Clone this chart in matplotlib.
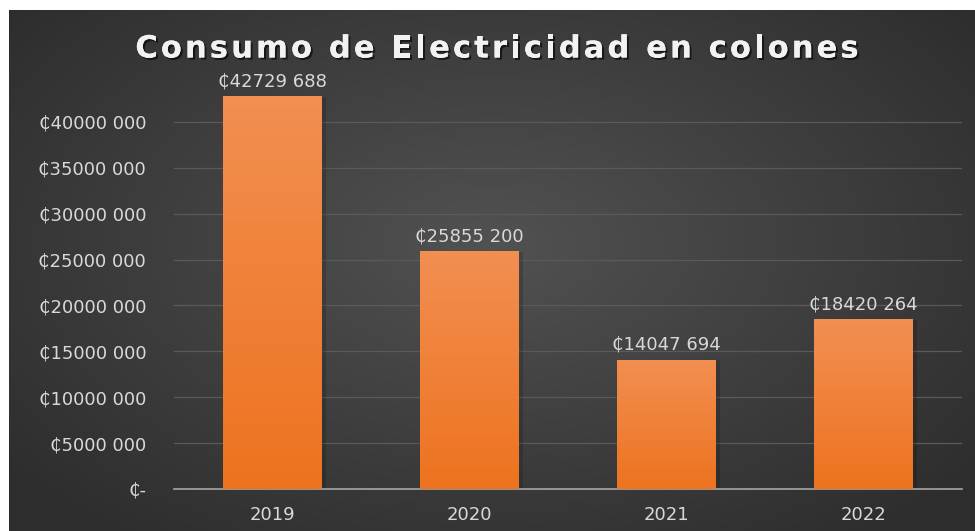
import numpy as np
import matplotlib.pyplot as plt
import matplotlib.patheffects as pe
from matplotlib.font_manager import FontProperties
from matplotlib.ticker import FuncFormatter

years = ["2019", "2020", "2021", "2022"]
consumo = [42729688, 25855200, 14047694, 18420264]
y_ticks = [0, 5000000, 10000000, 15000000, 20000000, 25000000, 30000000, 35000000, 40000000]
titulo = "Consumo de Electricidad en colones"

TXT = "#d9d9d9"
W, H = 975, 531


def colones(v, _pos=None):
    if v == 0:
        return "\u20b5-"
    s = f"{int(round(v)):d}"
    return "\u20b5" + s[:-3] + " " + s[-3:]


def spaced_title(fig, text, xc, yc, tracking, **kw):
    # draw the title letter by letter so it gets some extra tracking
    prop = FontProperties(family="DejaVu Sans", weight="bold", size=kw.pop("fontsize"))
    rend = fig.canvas.get_renderer()
    widths = [rend.get_text_width_height_descent(c, prop, ismath=False)[0] for c in text]
    total = sum(widths) + tracking * (len(text) - 1)
    x = xc - total / 2
    for c, w in zip(text, widths):
        fig.text(x / W, yc, c, ha="left", va="center", fontproperties=prop, **kw)
        x += w + tracking


fig = plt.figure(figsize=(W / 100, H / 100), dpi=100)
fig.patch.set_facecolor("white")

# dark panel with a soft radial glow
bg = fig.add_axes([9 / W, 0, 1 - 9 / W, 1 - 10 / H], zorder=0)
gx, gy = np.meshgrid(np.linspace(-1, 1, 400), np.linspace(-1, 1, 220))
r = np.sqrt((gx / 1.1) ** 2 + ((gy + 0.1) / 1.2) ** 2)
shade = np.clip(0.32 - 0.12 * r, 0.18, 0.32)
bg.imshow(np.dstack([shade] * 3), aspect="auto", extent=[0, 1, 0, 1],
          interpolation="bicubic")
bg.set_axis_off()

ax = fig.add_axes([174 / W, 1 - 489 / H, 788 / W, (489 - 76) / H], zorder=1)
ax.patch.set_alpha(0)
x = np.arange(len(years))
ax.set_xlim(-0.5, len(years) - 0.5)
ax.set_ylim(0, 45000000)

bars = ax.bar(x, consumo, width=0.5, color="none", zorder=3)
grad = np.linspace(0, 1, 256).reshape(-1, 1)
top = np.array([0.95, 0.56, 0.32])
bottom = np.array([0.93, 0.45, 0.12])
img = bottom + (top - bottom) * grad[..., None]
for b in bars:
    x0, w, h = b.get_x(), b.get_width(), b.get_height()
    # faint drop shadow around each bar
    ax.bar(x0 + w / 2 + 0.01, h, width=w + 0.025, color="black", alpha=0.15,
           zorder=2, linewidth=0)
    ax.imshow(img, extent=[x0, x0 + w, 0, h], origin="lower", aspect="auto",
              zorder=3)
    ax.text(x0 + w / 2, h + 700000, colones(h), ha="center", va="bottom",
            color=TXT, fontsize=13)

ax.set_yticks(y_ticks)
ax.yaxis.set_major_formatter(FuncFormatter(colones))
ax.set_xticks(x, years)
ax.tick_params(axis="both", length=0, colors=TXT, labelsize=13)
ax.tick_params(axis="y", pad=20)
ax.tick_params(axis="x", pad=12)
ax.grid(axis="y", color="#5a5a5a", linewidth=0.9, zorder=1)
ax.set_axisbelow(True)
for side in ["top", "right", "left"]:
    ax.spines[side].set_visible(False)
ax.spines["bottom"].set_color("#a6a6a6")
ax.spines["bottom"].set_linewidth(1.2)

spaced_title(fig, titulo, 497, 1 - 49 / H, 3.2, fontsize=22, color="#f2f2f2",
             path_effects=[pe.withSimplePatchShadow(offset=(1.5, -1.5),
                                                    shadow_rgbFace="black", alpha=0.6),
                           pe.Normal()])

fig.savefig("out.png", dpi=100)
